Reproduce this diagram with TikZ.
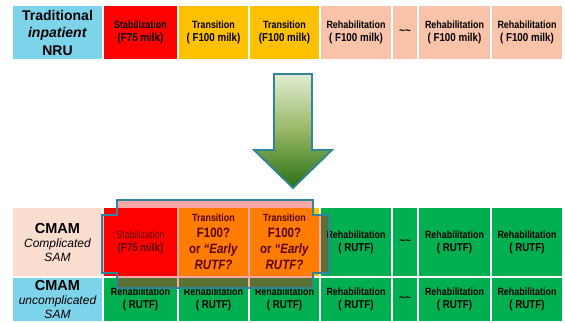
\documentclass[tikz,border=0pt]{standalone}
\usepackage{fontspec}
\setmainfont{Liberation Sans}
\newfontfamily\narrowfont[FakeStretch=0.85]{Liberation Sans}
\usetikzlibrary{positioning}

\definecolor{nrublue}{RGB}{125,212,234}
\definecolor{stabred}{RGB}{255,0,0}
\definecolor{transyellow}{RGB}{255,192,0}
\definecolor{rehabpeach}{RGB}{248,195,168}
\definecolor{cmampeach}{RGB}{251,221,208}
\definecolor{rutfgreen}{RGB}{0,176,80}
\definecolor{frameteal}{RGB}{49,133,155}
\definecolor{arrowtop}{RGB}{226,236,208}
\definecolor{arrowmid}{RGB}{150,182,100}
\definecolor{arrowbot}{RGB}{40,112,22}

\newcommand{\lblfont}{\fontsize{14}{17.5}\selectfont\bfseries}
\newcommand{\subfont}{\fontsize{12}{14}\selectfont\itshape}
\newcommand{\cellfont}{\narrowfont\bfseries\fontsize{10.5}{13}\selectfont}
\newcommand{\cellbig}{\fontsize{11.5}{13}\selectfont}
\newcommand{\askfont}{\narrowfont\bfseries\fontsize{13.5}{16}\selectfont}

\begin{document}
\begin{tikzpicture}[x=1pt, y=-1pt,
    every node/.style={draw=white, line width=1.2pt, outer sep=0pt, inner sep=0pt, align=center},
    lbl/.style={minimum width=91pt, font=\lblfont},
    sublbl/.style={minimum width=91pt, font=\subfont},
    cell/.style={font=\cellfont},
    ask/.style={font=\askfont},
    topr/.style={minimum height=55pt},
    midr/.style={minimum height=70pt},
    lowr/.style={minimum height=45pt},
    wa/.style={minimum width=75pt},
    wb/.style={minimum width=71pt},
    wc/.style={minimum width=72pt},
    wd/.style={minimum width=26pt},
    we/.style={minimum width=73pt},
    node distance=0pt]

    \useasboundingbox (0,0) rectangle (565,322);

    % traditional inpatient row
    \node[lbl, topr, fill=nrublue, anchor=north west] (trad) at (12,5) {Traditional\\\textit{inpatient}\\NRU};
    \node[cell, topr, wa, fill=stabred, right=of trad] (t1) {Stabilization\\{\cellbig(F75 milk)}};
    \node[cell, topr, wb, fill=transyellow, right=of t1] (t2) {Transition\\{\cellbig( F100 milk)}};
    \node[cell, topr, wb, fill=transyellow, right=of t2] (t3) {Transition\\{\cellbig(F100 milk)}};
    \node[cell, topr, wc, fill=rehabpeach, right=of t3] (t4) {Rehabilitation\\{\cellbig( F100 milk)}};
    \node[cell, topr, wd, fill=rehabpeach, right=of t4] (t5) {\cellbig\textasciitilde\textasciitilde};
    \node[cell, topr, we, fill=rehabpeach, right=of t5] (t6) {Rehabilitation\\{\cellbig( F100 milk)}};
    \node[cell, topr, wc, fill=rehabpeach, right=of t6] (t7) {Rehabilitation\\{\cellbig( F100 milk)}};

    % CMAM complicated row
    \node[sublbl, midr, fill=cmampeach, anchor=north west] (cmamc) at (12,207) {{\fontsize{14.5}{14}\selectfont\bfseries\upshape CMAM}\\Complicated\\SAM};
    \node[cell, midr, wa, fill=stabred, right=of cmamc] (c1) {{\mdseries Stabilization}\\{\cellbig(F75 milk)}};
    \node[ask, midr, wb, fill=transyellow, right=of c1] (c2) {{\fontsize{10.5}{16}\selectfont Transition}\\F100?\\or \textit{“Early}\\\textit{RUTF?}};
    \node[ask, midr, wb, fill=transyellow, right=of c2] (c3) {{\fontsize{10.5}{16}\selectfont Transition}\\F100?\\or \textit{“Early}\\\textit{RUTF?}};
    \node[cell, midr, wc, fill=rutfgreen, right=of c3] (c4) {Rehabilitation\\{\cellbig( RUTF)}};
    \node[cell, midr, wd, fill=rutfgreen, right=of c4] (c5) {\cellbig\textasciitilde\textasciitilde};
    \node[cell, midr, we, fill=rutfgreen, right=of c5] (c6) {Rehabilitation\\{\cellbig( RUTF)}};
    \node[cell, midr, wc, fill=rutfgreen, right=of c6] (c7) {Rehabilitation\\{\cellbig( RUTF)}};

    % CMAM uncomplicated row
    \node[sublbl, lowr, fill=nrublue, below=of cmamc] (cmamu) {{\fontsize{14.5}{14}\selectfont\bfseries\upshape CMAM}\\uncomplicated\\SAM};
    \node[cell, lowr, wa, fill=rutfgreen, right=of cmamu] (u1) {Rehabilitation\\{\cellbig( RUTF)}};
    \node[cell, lowr, wb, fill=rutfgreen, right=of u1] (u2) {Rehabilitation\\{\cellbig( RUTF)}};
    \node[cell, lowr, wb, fill=rutfgreen, right=of u2] (u3) {Rehabilitation\\{\cellbig( RUTF)}};
    \node[cell, lowr, wc, fill=rutfgreen, right=of u3] (u4) {Rehabilitation\\{\cellbig( RUTF)}};
    \node[cell, lowr, wd, fill=rutfgreen, right=of u4] (u5) {\cellbig\textasciitilde\textasciitilde};
    \node[cell, lowr, we, fill=rutfgreen, right=of u5] (u6) {Rehabilitation\\{\cellbig( RUTF)}};
    \node[cell, lowr, wc, fill=rutfgreen, right=of u6] (u7) {Rehabilitation\\{\cellbig( RUTF)}};

    % big down arrow
    \draw[draw=frameteal, line width=1.8pt, top color=arrowtop, bottom color=arrowbot, middle color=arrowmid]
        (274,74) -- (312,74) -- (312,150) -- (332,150) -- (293,188) -- (254,150) -- (274,150) -- cycle;

    % highlight over the early phases
    \draw[draw=frameteal, line width=2pt, fill=red, fill opacity=0.35]
        (117,200) -- (313,200) -- (313,215) -- (329,215) -- (329,273) -- (313,273) -- (313,288)
        -- (117,288) -- (117,273) -- (102,273) -- (102,215) -- (117,215) -- cycle;
\end{tikzpicture}
\end{document}
